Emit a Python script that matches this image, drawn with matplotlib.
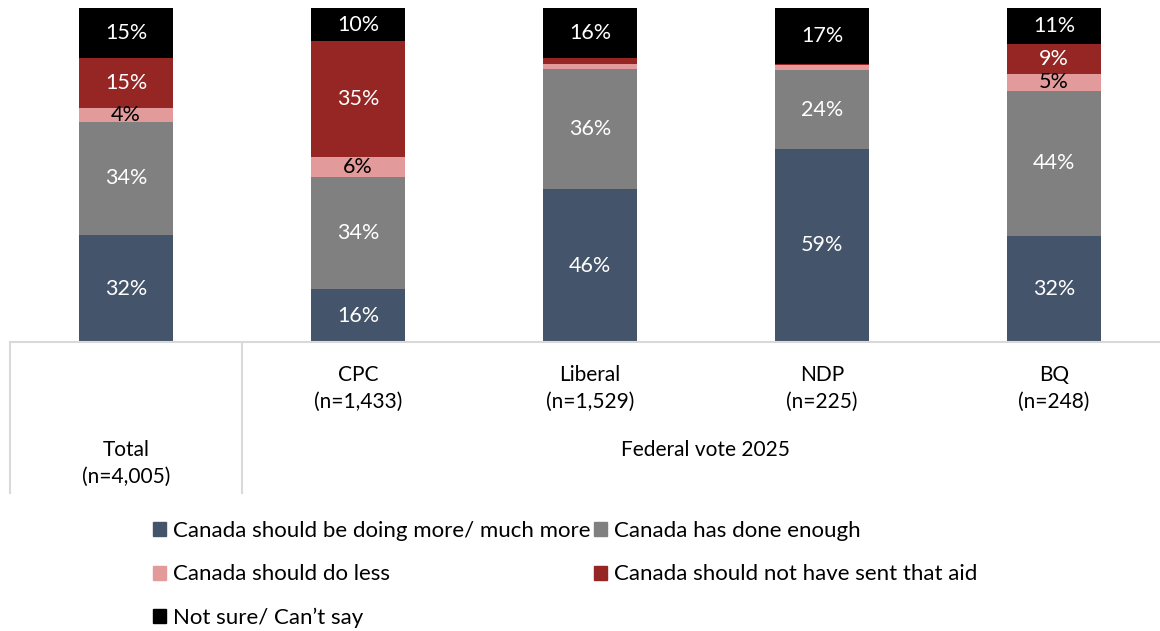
import numpy as np
import matplotlib.pyplot as plt
from matplotlib.patches import Patch

plt.rcParams['font.family'] = ['Lato', 'DejaVu Sans']

## Data
groups = ['Total', 'CPC', 'Liberal', 'NDP', 'BQ']
sizes = ['(n=4,005)', '(n=1,433)', '(n=1,529)', '(n=225)', '(n=248)']
series = ['Canada should be doing more/ much more', 'Canada has done enough',
          'Canada should do less', 'Canada should not have sent that aid',
          'Not sure/ Can\u2019t say']
more = [32, 16, 46, 59, 32]
enough = [34, 34, 36, 24, 44]
less = [4, 6, 1.5, 1.5, 5]
not_sent = [15, 35, 2, 0.5, 9]
not_sure = [15, 10, 15, 17, 11]
shown = [15, 10, 16, 17, 11]  # labels as printed on the chart
labels_shown = [[True] * 5, [True] * 5, [True, True, False, False, True],
                [True, True, False, False, True], [True] * 5]

colors = ['#44546A', '#808080', '#E39A9A', '#952623', '#000000']
text_colors = ['white', 'white', 'black', 'white', 'white']

vals = np.array([more, enough, less, not_sent, not_sure], dtype=float)
pct = vals / vals.sum(axis=0) * 100
printed = vals.copy()
printed[4] = shown

fig = plt.figure(figsize=(11.6, 6.31), dpi=100)
ax = fig.add_axes([10 / 1160, 1 - 342 / 631, 1150 / 1160, 334 / 631])

x = np.arange(len(groups))
bottom = np.zeros(len(groups))
handles = []
for i, name in enumerate(series):
    ax.bar(x, pct[i], 0.405, bottom=bottom, color=colors[i], linewidth=0)
    for j in range(len(groups)):
        if labels_shown[i][j]:
            ax.text(x[j], bottom[j] + pct[i][j] / 2, '%d%%' % round(printed[i][j]),
                    ha='center', va='center', color=text_colors[i], fontsize=15.5)
    bottom += pct[i]
    handles.append(Patch(color=colors[i], label=name))

ax.set_xlim(-0.5, (1160 - 126) / 232)
ax.set_ylim(0, 100)
ax.axis('off')

## category table below the bars
tr = ax.get_xaxis_transform()
line_kw = dict(color='#D9D9D9', lw=1.5, transform=tr, clip_on=False)
ax.plot([-0.5, 4.5], [0, 0], **line_kw)
ax.plot([-0.5, -0.5], [0, -0.452], **line_kw)
ax.plot([0.5, 0.5], [0, -0.452], **line_kw)

for j in range(1, len(groups)):
    ax.text(x[j], -0.099, groups[j], ha='center', va='center', fontsize=15, transform=tr)
    ax.text(x[j], -0.18, sizes[j], ha='center', va='center', fontsize=15, transform=tr)
ax.text(x[0], -0.323, groups[0], ha='center', va='center', fontsize=15, transform=tr)
ax.text(x[0], -0.404, sizes[0], ha='center', va='center', fontsize=15, transform=tr)
ax.text((705 - 126) / 232, -0.323, 'Federal vote 2025', ha='center', va='center',
        fontsize=15, transform=tr)

## legend laid out row by row
order = [0, 2, 4, 1, 3]
fig.legend([handles[k] for k in order], [series[k] for k in order], ncol=2,
           loc='upper left', bbox_to_anchor=(142 / 1160, 1 - 510 / 631),
           frameon=False, fontsize=16, handlelength=0.6, handleheight=0.6,
           handletextpad=0.3, columnspacing=0.15, labelspacing=1.05, borderpad=0)

fig.savefig('out.png', dpi=100)
